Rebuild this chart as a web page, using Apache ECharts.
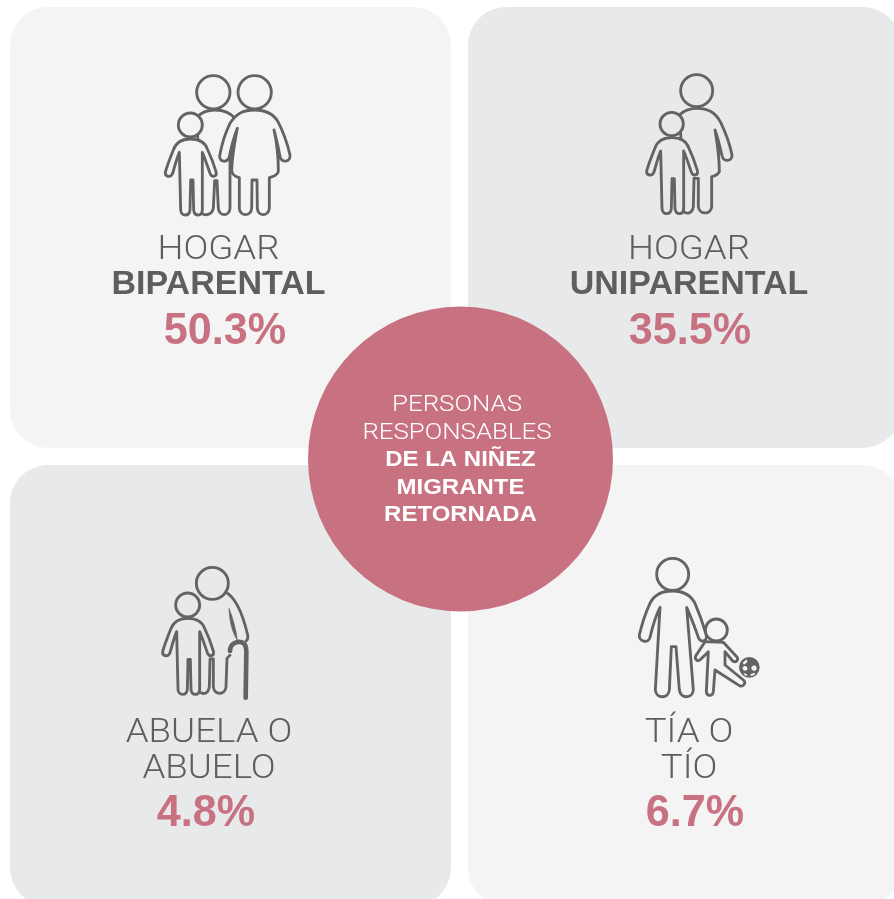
<!DOCTYPE html>
<html>
<head>
<meta charset="utf-8">
<style>
  html, body { margin: 0; padding: 0; background: #fff; }
  #main { width: 894px; height: 899px; }
</style>
</head>
<body>
<div id="main"></div>
<script src="https://cdn.jsdelivr.net/npm/echarts@6/dist/echarts.min.js"></script>
<script>
const titleLines = [["HOGAR"], ["HOGAR"], ["ABUELA O", "ABUELO"], ["TÍA O", "TÍO"]];
const boldLines = ["BIPARENTAL", "UNIPARENTAL", "", ""];
const percentages = [50.3, 35.5, 4.8, 6.7];
const centerLight = ["PERSONAS", "RESPONSABLES"];
const centerBold = ["DE LA NIÑEZ", "MIGRANTE", "RETORNADA"];

const PINK = "#c87181";
const INK = "#626363";
const TEXT = "#5d5e5f";
const LIGHT_CARD = "#f4f4f5";
const DARK_CARD = "#e8e9eb";
const LIGHT_FONT = "Roboto, 'Liberation Sans', sans-serif";
const BOLD_FONT = "'Liberation Sans', Arial, sans-serif";
const LW = 8.5;

// figuras en coordenadas del recorte x3
const childBody =
  "M120 222 C95 222 78 232 70 255 C60 280 50 305 46 322 C44 335 62 340 68 325 C74 305 80 280 88 262 L92 435 C93 455 118 455 120 435 L122 345 L129 345 L131 435 C133 455 156 455 157 435 L157 262 C165 280 173 305 180 325 C186 340 202 335 198 320 C192 300 183 275 172 252 C165 232 145 222 120 222 Z";

function figure(d, x, y, fill, lw) {
  return {
    type: "path",
    x: x,
    y: y,
    shape: { pathData: d },
    style: { fill: fill, stroke: INK, lineWidth: lw || LW, lineJoin: "round" },
  };
}
function head(cx, cy, r, fill) {
  return {
    type: "circle",
    shape: { cx: cx, cy: cy, r: r },
    style: { fill: fill, stroke: INK, lineWidth: LW },
  };
}
function wedge(d) {
  return { type: "path", shape: { pathData: d }, style: { fill: INK, stroke: INK, lineWidth: 2 } };
}

function icon1(fill) {
  return [
    figure("M140 158 C155 140 175 135 195 135 C220 135 240 142 255 160 L240 290 L240 430 C238 455 208 455 205 430 L201 347 L194 347 L190 430 C186 452 165 452 155 445 Z", 0, 0, fill),
    head(190, 82, 50, fill),
    figure("M314 135 C280 135 258 145 240 175 C225 205 215 240 209 272 C207 292 233 295 238 275 C243 250 250 220 262 190 C255 230 246 270 245 318 C248 330 258 336 268 338 L268 430 C270 455 303 455 305 430 L306 345 L321 345 L322 430 C324 455 355 455 358 430 L358 338 C370 335 382 330 385 320 C385 280 380 230 372 195 C380 225 386 250 390 275 C395 295 422 292 420 270 C412 235 402 205 385 172 C370 145 345 135 314 135 Z", 0, 0, fill),
    head(314, 82, 50, fill),
    wedge("M262 190 C253 225 247 260 245 300 C250 265 256 230 262 190 Z"),
    wedge("M372 195 C380 230 385 270 385 310 C389 270 384 225 372 195 Z"),
    figure(childBody, 0, 0, fill),
    head(121, 180, 36, fill),
  ];
}
function icon2(fill) {
  return [
    figure("M150 148 C165 135 180 130 200 130 C235 130 255 142 272 172 C288 205 300 240 306 270 C308 290 280 292 276 272 C270 245 264 220 255 195 C262 235 268 280 268 320 C262 330 255 333 245 335 L245 425 C243 450 208 450 205 425 L205 340 L192 340 L190 425 C186 447 170 447 160 440 Z", 0, 0, fill),
    wedge("M255 195 C262 230 267 270 266 305 C272 265 266 225 255 195 Z"),
    head(200, 77, 48, fill),
    figure(childBody, 4, -4, fill),
    head(125, 177, 35, fill),
  ];
}
function icon3(fill) {
  return [
    figure("M225 110 C255 125 278 175 293 240 C295 250 292 256 286 260", 0, 0, "none"),
    figure("M242 298 L231 310 L228 395 C226 422 192 422 190 395 L190 312 L180 312 L178 395 C175 418 160 418 150 412", 0, 0, "none"),
    wedge("M237 160 C238 195 246 232 262 256 C258 222 248 188 237 160 Z"),
    head(187, 85, 48, fill),
    figure(childBody, -8, -32, fill),
    head(113, 150, 36, fill),
    { type: "path", shape: { pathData: "M240 288 C240 265 262 258 275 262 C288 266 289 280 289 290 L287 428" }, style: { fill: "none", stroke: INK, lineWidth: 14, lineCap: "round" } },
  ];
}
function icon4(fill) {
  return [
    figure("M128 123 C95 123 72 135 60 160 C45 192 35 225 28 255 C26 275 55 282 60 262 C67 232 76 200 90 172 L76 420 C78 447 116 447 118 420 L124 290 L138 290 L148 420 C152 447 188 447 190 420 L170 172 C182 200 195 232 205 262 C210 280 235 275 228 252 C220 225 208 190 195 160 C182 135 160 123 128 123 Z", 0, 0, fill),
    head(128, 73, 48, fill),
    figure("M225 275 L197 318 C193 330 205 336 212 328 L235 305 L229 425 C230 440 248 440 250 425 L255 360 L328 407 C340 412 350 398 340 390 L285 345 L285 305 L308 333 C318 340 328 328 320 320 L280 277 Z", 0, 0, fill),
    head(259, 240, 33, fill),
    { type: "circle", shape: { cx: 358, cy: 352, r: 31 }, style: { fill: INK } },
    { type: "path", shape: { pathData: "M338 338 L350 328 L352 336 L342 344 Z M338 352 C346 344 354 350 352 358 C348 366 336 362 338 352 Z M364 352 C370 342 382 346 380 356 C378 366 362 364 364 352 Z M362 372 L376 368 L372 376 L362 378 Z M340 370 L350 372 L352 378 L344 376 Z" }, style: { fill: fill } },
  ];
}

function line(text, x, y, size, font, weight, color, stretch) {
  return {
    type: "text",
    x: x,
    y: y,
    scaleX: stretch || 1,
    style: { text: text, fontFamily: font, fontSize: size, fontWeight: weight, fill: color, align: "center", verticalAlign: "middle" },
  };
}

const cards = [
  { rect: [10, 7, 441, 441], fill: LIGHT_CARD, icon: icon1, at: [150, 65], cx: 218.5, pctX: 225, ys: [251, 285], pctY: 332 },
  { rect: [468, 7, 433, 441], fill: DARK_CARD, icon: icon2, at: [630, 65], cx: 689, pctX: 690, ys: [251, 285], pctY: 332 },
  { rect: [10, 465, 441, 441], fill: DARK_CARD, icon: icon3, at: [150, 555], cx: 209, pctX: 206, ys: [734, 770], pctY: 814 },
  { rect: [468, 465, 433, 441], fill: LIGHT_CARD, icon: icon4, at: [630, 550], cx: 689, pctX: 695, ys: [734, 770], pctY: 814 },
];

function renderCard(params) {
  const i = params.dataIndex;
  const c = cards[i];
  const children = [
    { type: "rect", shape: { x: c.rect[0], y: c.rect[1], width: c.rect[2], height: c.rect[3], r: 38 }, style: { fill: c.fill } },
    { type: "group", x: c.at[0], y: c.at[1], scaleX: 1 / 3, scaleY: 1 / 3, children: c.icon(c.fill) },
  ];
  titleLines[i].forEach(function (t, k) {
    children.push(line(t, c.cx, c.ys[k], 33, LIGHT_FONT, 300, TEXT, 1.11));
  });
  if (boldLines[i]) {
    children.push(line(boldLines[i], c.cx, c.ys[1], 34, BOLD_FONT, "bold", TEXT));
  }
  children.push(line(percentages[i].toFixed(1) + "%", c.pctX, c.pctY, 44, BOLD_FONT, "bold", PINK, 0.98));
  return { type: "group", children: children };
}

function renderCenter() {
  const children = [
    { type: "circle", shape: { cx: 460.5, cy: 459, r: 152.5 }, style: { fill: PINK } },
  ];
  centerLight.forEach(function (t, k) {
    children.push(line(t, 457, 405.5 + k * 28, 22, LIGHT_FONT, 300, "#fff", 1.175));
  });
  centerBold.forEach(function (t, k) {
    children.push(line(t, 460.5, 460 + k * 27.5, 22, BOLD_FONT, "bold", "#fff", 1.09));
  });
  return { type: "group", children: children };
}

const chart = echarts.init(document.getElementById("main"), null, { renderer: "canvas" });
chart.setOption({
  backgroundColor: "#ffffff",
  animation: false,
  series: [
    { type: "custom", coordinateSystem: "none", silent: true, data: percentages, renderItem: renderCard },
    { type: "custom", coordinateSystem: "none", silent: true, data: [1], renderItem: renderCenter },
  ],
});
</script>
</body>
</html>
